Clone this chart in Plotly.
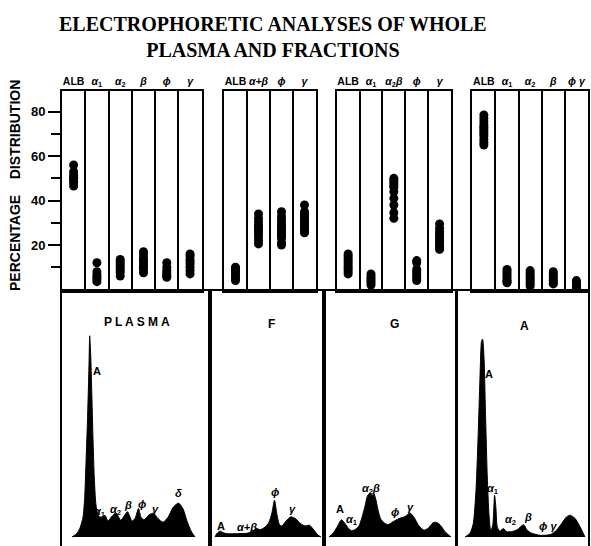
import plotly.graph_objects as go

W, H = 591, 546

# ---------------- data: percentage distribution (top panels) ----------------
plasma_headers = ["ALB", "<i>α</i><sub>1</sub>", "<i>α</i><sub>2</sub>", "<i>β</i>", "<i>ϕ</i>", "<i>γ</i>"]
plasma_values = [
    [56, 53, 51.5, 50.5, 50, 49, 48, 46.5],
    [12, 8, 6.5, 5.5, 4.5, 3.5],
    [13.5, 12.5, 11.5, 10.5, 9.5, 8.5, 7.5, 6],
    [17, 15.5, 14, 13, 12, 11, 10, 9, 7.5],
    [12, 10, 8.5, 7.5, 6.5, 6, 5.5],
    [16, 15, 13.5, 12.5, 11.5, 10, 8.5, 7],
]

f_headers = ["ALB", "<i>α+β</i>", "<i>ϕ</i>", "<i>γ</i>"]
f_values = [
    [10, 9.5, 9, 8, 7, 6, 5, 4],
    [34, 32, 30.5, 29, 28, 27, 26, 25, 23.5, 22, 20.5],
    [35, 33, 31.5, 30, 29, 28, 27, 26, 25, 24, 23, 21, 20],
    [38, 35, 34, 33, 32, 31, 30, 29, 28, 27, 26, 25.5],
]

g_headers = ["ALB", "<i>α</i><sub>1</sub>", "<i>α</i><sub>2</sub><i>β</i>", "<i>ϕ</i>", "<i>γ</i>"]
g_values = [
    [16, 15, 14, 13, 12, 11, 10, 9, 8, 7],
    [7, 6, 5, 4, 3, 2],
    [50, 49, 48, 47, 46, 44, 41, 38, 34.5, 32],
    [13, 12, 9, 8, 7, 6, 5, 4],
    [29.5, 27.5, 26, 25, 24, 23, 22, 21, 20, 19, 18],
]

a_headers = ["ALB", "<i>α</i><sub>1</sub>", "<i>α</i><sub>2</sub>", "<i>β</i>", "<i>ϕ γ</i>"]
a_values = [
    [78.5, 77, 75.5, 74, 73, 72, 71, 70, 69, 67.5, 66, 65],
    [9, 8, 7, 6, 5, 4, 3.5, 3],
    [8.5, 7.5, 6.5, 5.5, 4.5, 3.5, 2.5, 1.5],
    [8, 7, 6, 5, 4, 3, 2.5],
    [4, 3, 2, 1.5, 1, 0.5],
]

y_tick_vals = [20, 40, 60, 80]
y_minor_vals = [10, 30, 50, 70]

# ---------------- data: electrophoretic patterns (bottom panels) ----------------
plasma_dist = [10, 15, 18.3, 21, 22.7, 24, 25.7, 27, 27.7, 28.7, 29.7, 31, 32.3, 34, 36.7, 40, 43,
               46, 50, 54, 58.7, 62, 65.5, 70, 73, 76.5, 79, 82, 87, 91.5, 96, 101, 106, 111,
               116.5, 121, 125, 129, 133]
plasma_conc = [0, 1.5, 4, 8, 16, 30, 50, 70, 81.8, 74, 60, 40, 24, 13, 8.5, 8, 8.8,
               6.5, 8.5, 9.8, 6.8, 8.5, 10.3, 6.5, 7.5, 11.6, 8, 7, 9, 9.7, 7.5, 6, 8, 12,
               13.8, 11.5, 6.5, 2.5, 0]

f_dist = [5, 7, 10, 14, 20, 30, 38, 43, 46.5, 50, 55, 59, 62, 64.5, 67, 69.5, 72, 76, 81, 86,
          90.5, 95, 99.5, 104, 108, 111]
f_conc = [0, 1.5, 2.4, 1.6, 1.3, 1.4, 1.6, 2.5, 3.5, 3, 4, 6, 10, 15, 9, 5, 4.5, 6.5, 8.2, 7.3,
          5.5, 4.5, 4.8, 2.8, 0.8, 0]

g_dist = [5, 9, 13, 17.5, 21, 24.5, 27.7, 31, 35, 38, 41, 43.5, 46, 48, 50, 52, 54, 56.5, 60,
          64, 69, 75, 81, 86, 90, 95, 100, 104, 109, 112, 116, 121, 127]
g_conc = [0, 1.5, 4, 7, 5.5, 3.5, 2.6, 3, 4.5, 8, 12.5, 16.8, 17.8, 17, 17.5, 15, 11, 7.5, 5.8,
          5, 6.2, 7.5, 8.3, 9.8, 8, 4.5, 2.8, 3.5, 5.8, 6, 5, 2.2, 0]

a_dist = [6.7, 11.7, 15, 17.7, 20, 21.7, 23.3, 24.3, 25.7, 27.3, 29, 30.7, 32.4, 34.5, 36.3,
          37.6, 39, 41.7, 45, 48.3, 53.3, 59, 63, 65.5, 68.5, 73, 82, 92, 98.3, 103.3, 108.3,
          111.7, 116.7, 121.7, 126.7]
a_conc = [0, 1.5, 5.5, 19, 43, 65, 79.8, 80.4, 73, 48.7, 24.4, 9, 2.5, 5, 17,
          12, 4, 2.4, 3.5, 2.2, 2.2, 3, 4.5, 5, 3, 1.6, 0.7, 1, 2.8, 5.5, 8.2,
          8.9, 7.6, 4.2, 0]

# ---------------- layout helpers ----------------
def fx(p):
    return p / W

def fy(p):
    return 1 - p / H

BLACK = "black"
SANS = "Liberation Sans"

fig = go.Figure()

top_panels = [
    (plasma_headers, plasma_values, 62, 201.7),
    (f_headers, f_values, 224, 316),
    (g_headers, g_values, 336.7, 451),
    (a_headers, a_values, 472.3, 588),
]

layout = dict(
    width=W, height=H, margin=dict(l=0, r=0, t=0, b=0),
    paper_bgcolor="white", plot_bgcolor="white", showlegend=False,
)

for k, (headers, values, x0, x1) in enumerate(top_panels, start=1):
    n = len(headers)
    xs, ys = [], []
    for i, col in enumerate(values):
        xs += [i] * len(col)
        ys += col
    fig.add_trace(go.Scatter(
        x=xs, y=ys, mode="markers", xaxis=f"x{k}", yaxis=f"y{k}",
        marker=dict(color=BLACK, size=9, line=dict(width=0)),
        cliponaxis=False, hoverinfo="skip"))
    layout[f"xaxis{k}"] = dict(
        domain=[fx(x0), fx(x1)], range=[-0.5, n - 0.5], anchor=f"y{k}", side="top",
        tickvals=list(range(n)), ticktext=[f"<b>{h}</b>" for h in headers],
        tickfont=dict(family=SANS, size=10.5, color=BLACK), ticks="", ticklen=0,
        showgrid=False, zeroline=False, showline=True, mirror=True,
        linecolor=BLACK, linewidth=2, fixedrange=True,
        minor=dict(tickvals=[i + 0.5 for i in range(n - 1)], showgrid=True,
                   gridcolor=BLACK, gridwidth=1.5),
    )
    yax = dict(
        domain=[fy(291), fy(91)], range=[-0.7, 89.3], anchor=f"x{k}",
        showgrid=False, zeroline=False, showline=True, mirror=True,
        linecolor=BLACK, linewidth=2, fixedrange=True,
    )
    if k == 1:
        yax.update(
            tickvals=y_tick_vals, ticktext=[f"<b>{v}</b>" for v in y_tick_vals],
            ticks="outside", ticklen=12, tickwidth=1.5, tickcolor=BLACK,
            tickfont=dict(family=SANS, size=13, color=BLACK),
            minor=dict(tickvals=y_minor_vals, ticks="outside", ticklen=9,
                       tickwidth=1.5, tickcolor=BLACK),
        )
    else:
        yax.update(showticklabels=False, ticks="")
    layout[f"yaxis{k}"] = yax

bottom_panels = [
    ("P L A S M A", plasma_dist, plasma_conc, 62, 210, (74.7, 87.2),
     [("A", 34.7, 67.6), ("<i>α</i><sub>1</sub>", 38, 10.2), ("<i>α</i><sub>2</sub>", 53, 10.9),
      ("<i>β</i>", 66.3, 12.9), ("<i>ϕ</i>", 79.7, 13.6), ("<i>γ</i>", 93, 11.6),
      ("<i>δ</i>", 116.3, 17.7)]),
    ("F", f_dist, f_conc, 210, 323.5, (61.7, 86.5),
     [("A", 11, 4.5), ("<i>α+β</i>", 36.7, 3.9), ("<i>ϕ</i>", 65, 18.3), ("<i>γ</i>", 82.3, 11.6)]),
    ("G", g_dist, g_conc, 324, 455, (70, 86.5),
     [("A", 16, 11.3), ("<i>α</i><sub>1</sub>", 28.3, 6.9), ("<i>α</i><sub>2</sub><i>β</i>", 46.5, 19.4),
      ("<i>ϕ</i>", 71, 10.2), ("<i>γ</i>", 86, 12.3)]),
    ("A", a_dist, a_conc, 458.3, 588, (65.7, 85.8),
     [("A", 31, 66.3), ("<i>α</i><sub>1</sub>", 34.4, 19.7), ("<i>α</i><sub>2</sub>", 51.7, 6.9),
      ("<i>β</i>", 69.4, 8.2), ("<i>ϕ γ</i>", 90, 4.5)]),
]

annotations = []
for j, (title, dist, conc, x0, x1, tpos, labels) in enumerate(bottom_panels, start=5):
    fig.add_trace(go.Scatter(
        x=dist, y=conc, mode="lines", xaxis=f"x{j}", yaxis=f"y{j}",
        line=dict(color=BLACK, width=1, shape="spline", smoothing=0.6),
        fill="tozeroy", fillcolor=BLACK, hoverinfo="skip"))
    layout[f"xaxis{j}"] = dict(
        domain=[fx(x0), fx(x1)], range=[0, x1 - x0], anchor=f"y{j}", side="top",
        showticklabels=False, ticks="", showgrid=False, zeroline=False,
        showline=True, mirror=False, linecolor=BLACK, linewidth=2, fixedrange=True)
    layout[f"yaxis{j}"] = dict(
        domain=[0, fy(291)], range=[-3.64, 100], anchor=f"x{j}",
        showticklabels=False, ticks="", showgrid=False, zeroline=False,
        showline=True, mirror=True, linecolor=BLACK, linewidth=2, fixedrange=True)
    annotations.append(dict(
        text=f"<b>{title}</b>", x=tpos[0], y=tpos[1], xref=f"x{j}", yref=f"y{j}",
        showarrow=False, font=dict(family=SANS, size=12, color=BLACK)))
    for txt, lx, ly in labels:
        annotations.append(dict(
            text=f"<b>{txt}</b>", x=lx, y=ly, xref=f"x{j}", yref=f"y{j}",
            showarrow=False, font=dict(family=SANS, size=11, color=BLACK)))

annotations.append(dict(
    text="<b>ELECTROPHORETIC ANALYSES OF WHOLE<br>PLASMA AND FRACTIONS</b>",
    x=fx(273), y=fy(11), xref="paper", yref="paper", showarrow=False,
    xanchor="center", yanchor="top",
    font=dict(family="Liberation Serif", size=20, color=BLACK)))
annotations.append(dict(
    text="<b>PERCENTAGE    DISTRIBUTION</b>", x=fx(15), y=fy(186),
    xref="paper", yref="paper", showarrow=False, textangle=-90,
    xanchor="center", yanchor="middle",
    font=dict(family=SANS, size=14, color=BLACK)))

layout["annotations"] = annotations
fig.update_layout(**layout)
fig.write_html("out.html")
